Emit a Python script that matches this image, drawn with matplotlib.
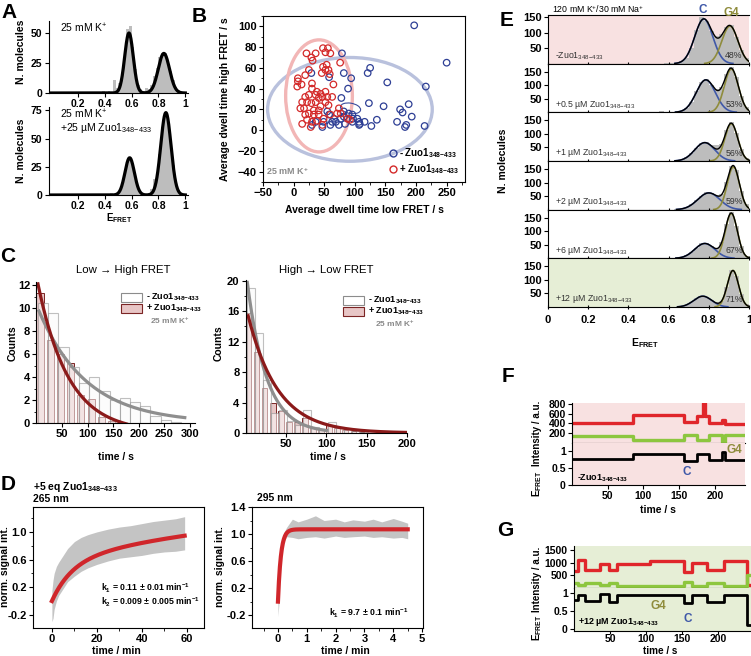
import numpy as np
import matplotlib.pyplot as plt
from matplotlib.patches import Ellipse, Rectangle
from matplotlib.lines import Line2D
from matplotlib.ticker import MultipleLocator

plt.rcParams['font.family'] = ['Liberation Sans', 'DejaVu Sans']
plt.rcParams['font.weight'] = 'bold'
plt.rcParams['axes.labelweight'] = 'bold'
plt.rcParams['font.size'] = 7.5
plt.rcParams['axes.linewidth'] = 0.8
plt.rcParams['mathtext.fontset'] = 'custom'
plt.rcParams['mathtext.rm'] = 'Liberation Sans'
plt.rcParams['mathtext.bf'] = 'Liberation Sans:bold'
plt.rcParams['mathtext.default'] = 'regular'

W, H = 751, 656
SUB = r'$_{348{-}433}$'
FRET = r'E$_{FRET}$'

# ---------------- data ----------------
# A: smFRET histograms, 25 mM K+ (bin centres, width 0.02)
a_bins = np.round(np.arange(0.35, 1.0, 0.02), 2)
a_top = [1, 1, 1.5, 1, 1.5, 1, 11, 4, 8, 17, 35, 53, 56, 38, 20, 7, 3, 2, 4, 3,
         7, 14, 21, 30, 33, 33, 27, 18, 11, 5, 2.5, 1, 0.5]
a_bot = [0, 0, 0, 0.5, 0.5, 2, 1, 1.5, 3.5, 10, 20, 30, 33, 26, 14, 6, 2, 1, 1, 2,
         5, 14, 17, 36, 60, 74, 70, 50, 27, 11, 4, 1.5, 0.5]
a_fit_top = [(50, 0.58, 0.032), (33, 0.84, 0.042)]
a_fit_bot = [(33, 0.585, 0.035), (73, 0.855, 0.038)]

# B: average dwell times (low FRET, high FRET) per molecule
b_minus_x = [197, 250, 216, 153, 125, 121, 79, 82, 29, 58, 94, 89, 78, 123, 147, 174, 188,
             178, 193, 169, 184, 182, 214, 136, 127, 116, 107, 107, 104, 96, 90, 82, 77, 74,
             66, 63, 58, 55, 60, 47, 49, 36, 30, 96, 88, 108, 84, 97, 69, 82]
b_minus_y = [101, 65, 42, 46, 60, 55, 74, 55, 55, 51, 50, 40, 31, 26, 23, 20, 25,
             17, 13, 8, 5, 3, 4, 10, 4, 8, 5, 8, 11, 15, 16, 13, 11, 5,
             11, 8, 15, 18, 5, 3, 8, 8, 5, 8, 11, 6, 6, 11, 8, 18]
b_plus_x = [21, 29, 36, 31, 48, 56, 60, 52, 48, 54, 57, 52, 46, 59, 76, 25, 19, 7, 7, 6,
            13, 30, 65, 30, 25, 19, 36, 44, 41, 47, 55, 63, 22, 14, 11, 17, 29, 36, 52, 57,
            44, 25, 33, 41, 49, 19, 22, 30, 38, 14, 28, 47, 74, 77, 88, 92, 71, 41, 38, 52,
            33, 60]
b_plus_y = [74, 70, 74, 67, 79, 79, 74, 75, 61, 63, 58, 58, 55, 54, 65, 58, 53, 50, 47, 42,
            44, 45, 44, 40, 34, 32, 34, 35, 31, 32, 32, 32, 27, 27, 21, 21, 26, 27, 27, 24,
            23, 16, 15, 15, 11, 15, 10, 8, 9, 6, 3, 5, 21, 16, 11, 10, 16, 19, 37, 37,
            19, 15]

# C: dwell-time histograms
lh_plus = [11.3, 7.2, 6.0, 5.2, 2.4, 2.1, 0.5, 0.2, 0.1]
lh_minus = [10.5, 9.6, 6.6, 4.9, 3.5, 4.0, 2.8, 2.0, 2.2, 1.8, 1.5, 0.6, 0.3, 0.1]
hl_plus = [15.7, 10.7, 5.9, 4.0, 2.9, 1.4, 1.5, 2.0, 0.6, 0.5, 1.0, 0.7, 0.4, 0.2, 0.1]
hl_minus = [19.1, 13.2, 6.9, 2.6, 3.0, 1.6, 1.0, 3.0, 0.8, 0.5, 1.4, 0.8, 0.5, 0.2, 0.1]
# exponential fits (amplitude, lifetime / s, offset)
lh_fit_minus = (10.3, 94, 0.0)
lh_fit_plus = (13.6, 60, -0.8)
hl_fit_minus = (21.5, 24, 0.0)
hl_fit_plus = (16.7, 37, 0.0)

# D: stopped-flow kinetics, envelope of the raw signal
d1_t = [0, 0.5, 1, 2, 3, 5, 7, 10, 13, 16, 20, 25, 30, 35, 40, 45, 50, 55, 59]
d1_lo = [-0.30, -0.25, -0.12, 0.0, 0.08, 0.18, 0.28, 0.36, 0.43, 0.48, 0.53, 0.58, 0.62,
         0.64, 0.66, 0.69, 0.71, 0.72, 0.74]
d1_hi = [0.15, 0.30, 0.40, 0.50, 0.56, 0.66, 0.76, 0.86, 0.92, 0.96, 1.00, 1.04, 1.07,
         1.09, 1.12, 1.15, 1.17, 1.19, 1.22]
d1_fit = (0.576, 0.11, 0.897, 0.009)
d2_t = [0, 0.03, 0.06, 0.1, 0.2, 0.3, 0.5, 0.7, 1.0, 1.3, 1.6, 2.0, 2.3, 2.6, 3.0, 3.3,
        3.6, 4.0, 4.3, 4.5]
d2_lo = [-0.22, -0.05, 0.35, 0.62, 0.88, 0.96, 0.95, 0.93, 0.95, 0.96, 0.94, 0.97, 0.95,
         0.96, 0.97, 0.95, 0.96, 0.94, 0.95, 0.93]
d2_hi = [0.05, 0.35, 0.65, 0.88, 1.02, 1.10, 1.22, 1.18, 1.22, 1.27, 1.20, 1.22, 1.18,
         1.21, 1.19, 1.22, 1.18, 1.23, 1.19, 1.16]
d2_fit = (1.07, 9.7)

# E: Zuo1 titration histograms (bins width 0.025)
e_bins = np.round(np.arange(0.5625, 1.0, 0.025), 4)
e_counts = [
    [0, 1, 2, 3, 9, 20, 52, 108, 150, 138, 105, 90, 95, 120, 125, 85, 45, 18],
    [5, 3, 1, 2, 6, 16, 40, 78, 112, 122, 100, 88, 95, 140, 168, 130, 62, 18],
    [0, 0, 1, 2, 5, 14, 30, 48, 66, 70, 58, 60, 62, 115, 145, 105, 45, 12],
    [0, 0, 0, 1, 4, 9, 20, 35, 52, 65, 62, 55, 58, 104, 162, 145, 68, 20],
    [0, 0, 0, 1, 4, 11, 24, 40, 55, 56, 46, 40, 60, 128, 172, 120, 45, 10],
    [0, 0, 0, 1, 3, 8, 19, 33, 42, 38, 27, 18, 24, 75, 138, 115, 48, 12],
]
e_fit_c = [(145, 0.775, 0.045), (120, 0.785, 0.048), (68, 0.78, 0.05),
           (62, 0.80, 0.055), (55, 0.78, 0.05), (40, 0.77, 0.045)]
e_fit_g = [(122, 0.905, 0.04), (160, 0.912, 0.035), (138, 0.912, 0.032),
           (158, 0.922, 0.03), (166, 0.912, 0.03), (135, 0.92, 0.028)]
e_labels = ['-Zuo1', '+0.5 µM Zuo1', '+1 µM Zuo1', '+2 µM Zuo1', '+6 µM Zuo1', '+12 µM Zuo1']
e_pct = ['48%', '53%', '56%', '59%', '67%', '71%']

# F/G: single-molecule traces as dwell segments (edges in s)
f_t = [0, 85, 156, 175, 183, 186, 192, 210, 214, 242]
f_red = [420, 580, 440, 560, 820, 560, 400, 470, 390]
f_green = [150, 65, 170, 55, 55, 55, 170, 20, 170]
f_fret = [0.76, 0.92, 0.72, 0.92, 0.93, 0.92, 0.74, 0.97, 0.74]
g_t = [0, 6, 15, 36, 48, 59, 105, 152, 163, 184, 207, 240, 244]
g_red = [680, 1100, 720, 950, 700, 950, 1050, 640, 980, 720, 1060, 120]
g_green = [180, 110, 200, 110, 210, 90, 90, 220, 90, 210, 80, 500]
g_fret = [0.82, 0.95, 0.78, 0.97, 0.76, 0.95, 0.96, 0.73, 0.95, 0.76, 0.96, 0.12]

# ---------------- colours ----------------
PINK_BG = '#f8e1e1'
GREEN_BG = '#e6eed6'
BAR_GRAY = '#bdbdbd'
C_BLUE = '#3f58a8'
G_OLIVE = '#8f8c3c'
TR_RED = '#e0262b'
TR_GREEN = '#8dc63f'

fig = plt.figure(figsize=(7.51, 6.56), dpi=100)


def box(x0, y0, x1, y1):
    return fig.add_axes([x0 / W, 1 - y1 / H, (x1 - x0) / W, (y1 - y0) / H])


def ftext(x, y, s, **kw):
    kw.setdefault('ha', 'center')
    kw.setdefault('va', 'center')
    fig.text(x / W, 1 - y / H, s, **kw)


def frect(x0, y0, x1, y1, **kw):
    fig.add_artist(Rectangle((x0 / W, 1 - y1 / H), (x1 - x0) / W, (y1 - y0) / H,
                             transform=fig.transFigure, **kw))


def gauss(x, a, c, s):
    return a * np.exp(-0.5 * ((x - c) / s) ** 2)


def ticks(ax, size=7.5):
    ax.tick_params(length=3, width=0.8, pad=1.5, labelsize=size)
    ax.tick_params(which='minor', length=1.8, width=0.6)


# ---------------- A ----------------
xs = np.linspace(0, 1, 600)
for (y0, y1, counts, fit, ymax, yt, txt, ylab_y) in [
        (21, 93, a_top, a_fit_top, 60, [0, 25, 50], '25 mM K$^{+}$', 52),
        (107, 195, a_bot, a_fit_bot, 78, [0, 25, 50, 75],
         '25 mM K$^{+}$\n+25 µM Zuo1' + SUB, 151)]:
    ax = box(48.5, y0, 188, y1)
    ax.bar(a_bins, counts, width=0.02, color=BAR_GRAY, lw=0)
    ax.plot(xs, sum(gauss(xs, *p) for p in fit), color='k', lw=2.3)
    ax.set_xlim(-0.02, 1.02)
    ax.set_ylim(0, ymax)
    ax.set_xticks([0.2, 0.4, 0.6, 0.8, 1.0], ['0.2', '0.4', '0.6', '0.8', '1'])
    ax.set_yticks(yt)
    ax.spines[['top', 'right']].set_visible(False)
    ticks(ax)
    ax.tick_params(axis='x', pad=1)
    ax.text(0.08, 0.99, txt, transform=ax.transAxes, ha='left', va='top',
            fontsize=7.5, fontweight='normal', linespacing=1.0)
    ftext(21, ylab_y, 'N. molecules', rotation=90)
ftext(119, 218, FRET, fontsize=7)

# ---------------- B ----------------
ax = box(263, 16, 465, 182)
ax.add_patch(Ellipse((92, 20), 269, 100, fill=False, ec='#b9c1dd', lw=2.4, zorder=1))
ax.add_patch(Ellipse((41.5, 33), 109, 108, fill=False, ec='#f2b6b6', lw=2.4, zorder=1))
ax.add_patch(Ellipse((93, 21), 33, 10, angle=-5, fill=False, ec='#3a4b9c', lw=0.8, zorder=1))
ax.scatter(b_minus_x, b_minus_y, s=22, facecolors='none', edgecolors='#2e3f95', lw=0.9, zorder=3)
ax.scatter(b_plus_x, b_plus_y, s=22, facecolors='none', edgecolors='#d42a2a', lw=0.9, zorder=3)
ax.set_xlim(-50, 280)
ax.set_ylim(-50, 110)
ax.set_xticks(range(-50, 251, 50))
ax.set_yticks(range(-40, 101, 20))
ax.xaxis.set_minor_locator(MultipleLocator(25))
ax.yaxis.set_minor_locator(MultipleLocator(10))
ticks(ax, 8)
handles = [Line2D([], [], marker='o', ls='', mfc='none', mec='#2e3f95', ms=5, mew=1),
           Line2D([], [], marker='o', ls='', mfc='none', mec='#d42a2a', ms=5, mew=1)]
ax.legend(handles, ['- Zuo1' + SUB, '+ Zuo1' + SUB], loc='lower right', frameon=False,
          fontsize=7, handletextpad=0.1, borderaxespad=0.2, labelspacing=0.25,
          handlelength=1.0)
ax.text(0.015, 0.03, '25 mM K$^{+}$', transform=ax.transAxes, ha='left', va='bottom',
        fontsize=6.5, color='#8a8a8a')
ftext(225, 99, 'Average dwell time high FRET / s', rotation=90, fontsize=7.5)
ftext(364, 210, 'Average dwell time low FRET / s', fontsize=7.5)


# ---------------- C ----------------
def dwell_panel(rect, plus, minus, step, fits, xmax, xt, ymax, yt, ymin_loc, title, tx):
    ax = box(*rect)
    n_p = np.arange(len(plus)) * step
    n_m = np.arange(len(minus)) * step
    ax.bar(n_p + step * 0.35, plus, width=step * 0.7, color='#e8c6c6', ec='#7b2424', lw=0.7)
    ax.bar(n_m + step * 0.65, minus, width=step, color='#fbfbfb', alpha=0.55,
           ec='#8c8c8c', lw=0.8)
    for (a, tau, c), col, t0, t1 in fits:
        t = np.linspace(t0, t1, 300)
        ax.plot(t, a * np.exp(-t / tau) + c, color=col, lw=2.3)
    ax.set_xlim(0, xmax)
    ax.set_ylim(0, ymax)
    ax.set_xticks(xt)
    ax.set_yticks(yt)
    ax.yaxis.set_minor_locator(MultipleLocator(ymin_loc))
    ax.spines[['top', 'right']].set_visible(False)
    ticks(ax, 8)
    ftext(tx, 270, title, fontsize=8.2, fontweight='normal')
    return ax


dwell_panel((36.4, 282, 195, 423), lh_plus, lh_minus, 20,
            [(lh_fit_minus, '#8e8e8e', 5, 290), (lh_fit_plus, '#8b1a1a', 3, 176)],
            310, [50, 100, 150, 200, 250, 300], 12.3, range(0, 13, 2), 1,
            'Low → High FRET', 123)
dwell_panel((245.7, 280, 407, 433), hl_plus, hl_minus, 10,
            [(hl_fit_minus, '#8e8e8e', 2, 100), (hl_fit_plus, '#8b1a1a', 3, 200)],
            200, [50, 100, 150, 200], 20.1, range(0, 21, 4), 2,
            'High → Low FRET', 326)
for (x0, y0, tx, ty, gx) in [(121, 293, 146, 297.5, 190), (343, 296, 368, 300.5, 415)]:
    frect(x0, y0, x0 + 21, y0 + 9, fc='white', ec='#8c8c8c', lw=0.8)
    frect(x0, y0 + 11, x0 + 21, y0 + 20, fc='#e8c6c6', ec='#7b2424', lw=0.8)
    ftext(tx, ty, '- Zuo1' + SUB, ha='left', fontsize=6.5)
    ftext(tx, ty + 11, '+ Zuo1' + SUB, ha='left', fontsize=6.5)
    ftext(gx, ty + 23, '25 mM K$^{+}$', ha='right', fontsize=6, color='#8a8a8a')
ftext(13, 343, 'Counts', rotation=90)
ftext(219, 343, 'Counts', rotation=90)
ftext(116, 457, 'time / s')
ftext(328, 457, 'time / s')

# ---------------- D ----------------
ax = box(33, 507, 204, 628)
ax.fill_between(d1_t, d1_lo, d1_hi, color='#c4c4c4', lw=0)
t = np.linspace(0, 59, 400)
a1, k1, a2, k2 = d1_fit
ax.plot(t, a1 * (1 - np.exp(-k1 * t)) + a2 * (1 - np.exp(-k2 * t)), color='#d0262b', lw=3)
ax.set_xlim(-8.4, 67.6)
ax.set_ylim(-0.39, 1.36)
ax.set_xticks([0, 20, 40, 60])
ax.set_yticks([-0.2, 0.2, 0.6, 1.0], ['-0.2', '0.2', '0.6', '1.0'])
ax.xaxis.set_minor_locator(MultipleLocator(10))
ax.yaxis.set_minor_locator(MultipleLocator(0.2))
ticks(ax, 8)
ax.text(0.40, 0.27, 'k$_1$ = 0.11 ± 0.01 min$^{-1}$\nk$_2$ = 0.009 ± 0.005 min$^{-1}$',
        transform=ax.transAxes, ha='left', va='center', fontsize=6.3, linespacing=1.15)
ftext(33, 504, '+5 eq Zuo1' + SUB + '\n265 nm', ha='left', va='bottom', fontsize=7.5,
      linespacing=0.95)
ftext(5, 567, 'norm. signal int.', rotation=90)
ftext(116, 651, 'time / min')

ax = box(252, 507, 423, 628)
ax.fill_between(d2_t, d2_lo, d2_hi, color='#c4c4c4', lw=0)
t = np.linspace(0, 4.5, 400)
ax.plot(t, d2_fit[0] * (1 - np.exp(-d2_fit[1] * t)), color='#d0262b', lw=3)
ax.set_xlim(-0.9, 5.03)
ax.set_ylim(-0.39, 1.4)
ax.set_xticks(range(0, 6))
ax.set_yticks([-0.2, 0.2, 0.6, 1.0, 1.4], ['-0.2', '0.2', '0.6', '1.0', '1.4'])
ax.xaxis.set_minor_locator(MultipleLocator(0.5))
ax.yaxis.set_minor_locator(MultipleLocator(0.2))
ticks(ax, 8)
ax.text(0.45, 0.12, 'k$_1$ = 9.7 ± 0.1 min$^{-1}$', transform=ax.transAxes,
        ha='left', va='center', fontsize=6.3)
ftext(257, 503, '295 nm', ha='left', va='bottom', fontsize=7.5)
ftext(220, 567, 'norm. signal int.', rotation=90)
ftext(345, 651, 'time / min')

# ---------------- E ----------------
rows = np.linspace(15, 307, 7)
for i in range(6):
    ax = box(548, rows[i], 749, rows[i + 1])
    ax.bar(e_bins, e_counts[i], width=0.025, color=BAR_GRAY, lw=0)
    cc = gauss(xs, *e_fit_c[i])
    gg = gauss(xs, *e_fit_g[i])
    ax.plot(xs, np.where(cc > 0.8, cc, np.nan), color=C_BLUE, lw=1.2)
    ax.plot(xs, np.where(gg > 0.8, gg, np.nan), color=G_OLIVE, lw=1.2)
    tot = cc + gg
    ax.plot(xs, np.where(tot > 0.8, tot, np.nan), color='k', lw=1.0)
    ax.set_xlim(0, 1)
    ax.set_ylim(0, 158 if i == 0 else 180)
    ax.set_yticks([50, 100, 150])
    ax.set_xticks([0, 0.2, 0.4, 0.6, 0.8, 1.0], ['0', '0.2', '0.4', '0.6', '0.8', '1'])
    ax.spines['right'].set_visible(False)
    if i == 0:
        ax.set_facecolor(PINK_BG)
    if i == 5:
        ax.set_facecolor(GREEN_BG)
    ticks(ax, 8)
    ax.tick_params(axis='x', direction='inout', length=3.5, labelbottom=(i == 5), pad=4)
    ax.text(0.035, 0.16, e_labels[i] + SUB, transform=ax.transAxes, ha='left',
            va='center', fontsize=6.3, fontweight='normal', color='#333333')
    ax.text(0.925, 0.16, e_pct[i], transform=ax.transAxes, ha='center', va='center',
            fontsize=6.3, fontweight='normal', color='#333333')
ftext(552, 9, '120 mM K$^{+}$/30 mM Na$^{+}$', ha='left', fontsize=6.3,
      fontweight='normal')
ftext(703, 10, 'C', color=C_BLUE, fontsize=8.5)
ftext(731, 13, 'G4', color=G_OLIVE, fontsize=8.5)
ftext(503, 161, 'N. molecules', rotation=90)
ftext(645, 343, FRET)


# ---------------- F / G ----------------
def trace_panel(x0, x1, yi0, ysplit, yf1, bg, t_edges, red, green, fret,
                ilim, itk, flim, xmax, xpad):
    ai = box(x0, yi0, x1, ysplit)
    af = box(x0, ysplit, x1, yf1)
    ai.step(t_edges, red + [red[-1]], where='post', color=TR_RED, lw=2.4)
    ai.step(t_edges, green + [green[-1]], where='post', color=TR_GREEN, lw=2.4)
    af.step(t_edges, fret + [fret[-1]], where='post', color='k', lw=2.0)
    for a in (ai, af):
        a.set_facecolor(bg)
        a.set_xlim(0, xmax)
        a.spines[['top', 'right']].set_visible(False)
        a.set_xticks([50, 100, 150, 200])
        ticks(a, 7.5)
    ai.set_ylim(*ilim)
    ai.set_yticks(itk)
    ai.tick_params(axis='x', length=0, labelbottom=False)
    af.set_ylim(*flim)
    af.set_yticks([0, 0.5, 1], ['0', '0.5', '1'])
    af.tick_params(axis='x', length=xpad[0], pad=xpad[1])
    return ai, af


trace_panel(572, 745, 403, 443, 485, PINK_BG, f_t, f_red, f_green, f_fret,
            (0, 820), [200, 400, 600, 800], (0, 1.24), 242, (3, 1.5))
ftext(577, 478, '-Zuo1' + SUB, ha='left', fontsize=6.5)
ftext(687, 472, 'C', color=C_BLUE, fontsize=8.5)
ftext(734, 450, 'G4', color=G_OLIVE, fontsize=8.5)
ftext(537, 433, 'Intensity / a.u.', rotation=90, fontsize=7)
ftext(537, 484, FRET, rotation=90, fontsize=7)
ftext(658, 510, 'time / s')

trace_panel(574, 751, 546, 588, 631, GREEN_BG, g_t, g_red, g_green, g_fret,
            (0, 1650), [500, 1000, 1500], (-0.05, 1.14), 245, (2, 0.5))
ftext(578, 622, '+12 µM Zuo1' + SUB, ha='left', fontsize=6.5)
ftext(658, 606, 'G4', color=G_OLIVE, fontsize=8.5)
ftext(688, 619, 'C', color=C_BLUE, fontsize=8.5)
ftext(537, 579, 'Intensity / a.u.', rotation=90, fontsize=7)
ftext(537, 628, FRET, rotation=90, fontsize=7)
ftext(660, 651.5, 'time / s', fontsize=7.2)

# ---------------- panel letters ----------------
for letter, x, y in [('A', 9, 13), ('B', 199, 17), ('C', 8, 256), ('D', 8, 485),
                     ('E', 507, 21), ('F', 508, 377), ('G', 505, 530)]:
    ftext(x, y, letter, fontsize=15)

fig.savefig('out.png', dpi=100)
